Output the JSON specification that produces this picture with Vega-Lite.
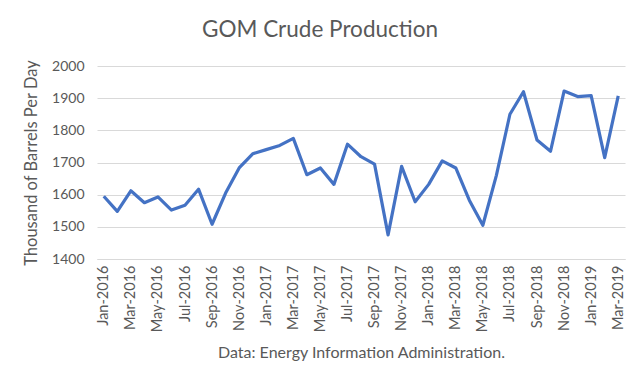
{
  "$schema": "https://vega.github.io/schema/vega-lite/v6.json",
  "autosize": "none",
  "width": 528,
  "height": 193,
  "padding": {"left": 97, "top": 66, "right": 15, "bottom": 126},
  "background": "white",
  "title": {
    "text": "GOM Crude Production",
    "anchor": "middle",
    "dx": -41,
    "offset": 18,
    "fontSize": 22.5,
    "font": "Lato",
    "fontWeight": "normal",
    "color": "#595959"
  },
  "data": {
    "values": [
      {"month": "Jan-2016", "value": 1595},
      {"month": "Feb-2016", "value": 1548},
      {"month": "Mar-2016", "value": 1612},
      {"month": "Apr-2016", "value": 1575},
      {"month": "May-2016", "value": 1593},
      {"month": "Jun-2016", "value": 1552},
      {"month": "Jul-2016", "value": 1567},
      {"month": "Aug-2016", "value": 1617},
      {"month": "Sep-2016", "value": 1508},
      {"month": "Oct-2016", "value": 1605},
      {"month": "Nov-2016", "value": 1683},
      {"month": "Dec-2016", "value": 1727},
      {"month": "Jan-2017", "value": 1740},
      {"month": "Feb-2017", "value": 1753},
      {"month": "Mar-2017", "value": 1775},
      {"month": "Apr-2017", "value": 1662},
      {"month": "May-2017", "value": 1683},
      {"month": "Jun-2017", "value": 1632},
      {"month": "Jul-2017", "value": 1757},
      {"month": "Aug-2017", "value": 1718},
      {"month": "Sep-2017", "value": 1695},
      {"month": "Oct-2017", "value": 1475},
      {"month": "Nov-2017", "value": 1688},
      {"month": "Dec-2017", "value": 1578},
      {"month": "Jan-2018", "value": 1632},
      {"month": "Feb-2018", "value": 1705},
      {"month": "Mar-2018", "value": 1683},
      {"month": "Apr-2018", "value": 1583},
      {"month": "May-2018", "value": 1505},
      {"month": "Jun-2018", "value": 1660},
      {"month": "Jul-2018", "value": 1850},
      {"month": "Aug-2018", "value": 1920},
      {"month": "Sep-2018", "value": 1770},
      {"month": "Oct-2018", "value": 1735},
      {"month": "Nov-2018", "value": 1922},
      {"month": "Dec-2018", "value": 1905},
      {"month": "Jan-2019", "value": 1908},
      {"month": "Feb-2019", "value": 1715},
      {"month": "Mar-2019", "value": 1907}
    ]
  },
  "mark": {"type": "line", "color": "#4472C4", "strokeWidth": 3.2, "strokeJoin": "round"},
  "encoding": {
    "x": {
      "field": "month",
      "type": "ordinal",
      "sort": null,
      "scale": {"type": "point", "padding": 0.5},
      "axis": {
        "values": ["Jan-2016","Mar-2016","May-2016","Jul-2016","Sep-2016","Nov-2016","Jan-2017","Mar-2017","May-2017","Jul-2017","Sep-2017","Nov-2017","Jan-2018","Mar-2018","May-2018","Jul-2018","Sep-2018","Nov-2018","Jan-2019","Mar-2019"],
        "labelAngle": -90,
        "labelAlign": "right",
        "labelBaseline": "middle",
        "labelPadding": 6,
        "labelFontSize": 14.5,
        "labelFont": "Lato",
        "labelColor": "#595959",
        "ticks": false,
        "domain": true,
        "domainColor": "#d9d9d9",
        "grid": false,
        "title": "Data: Energy Information Administration.",
        "titleFont": "Lato",
        "titleFontSize": 16,
        "titleFontWeight": "normal",
        "titleColor": "#595959",
        "titlePadding": 13,
        "titleX": 264
      }
    },
    "y": {
      "field": "value",
      "type": "quantitative",
      "scale": {"domain": [1400, 2000], "zero": false, "nice": false},
      "axis": {
        "values": [1400, 1500, 1600, 1700, 1800, 1900, 2000],
        "format": "d",
        "domain": false,
        "ticks": false,
        "grid": true,
        "gridColor": "#d9d9d9",
        "gridWidth": 1,
        "labelFontSize": 14,
        "labelFont": "Lato",
        "labelColor": "#595959",
        "labelPadding": 13,
        "title": "Thousand of Barrels Per Day",
        "titleFont": "Lato",
        "titleFontSize": 16.5,
        "titleFontWeight": "normal",
        "titleColor": "#595959",
        "titlePadding": 12
      }
    }
  },
  "config": {"view": {"stroke": null}}
}
